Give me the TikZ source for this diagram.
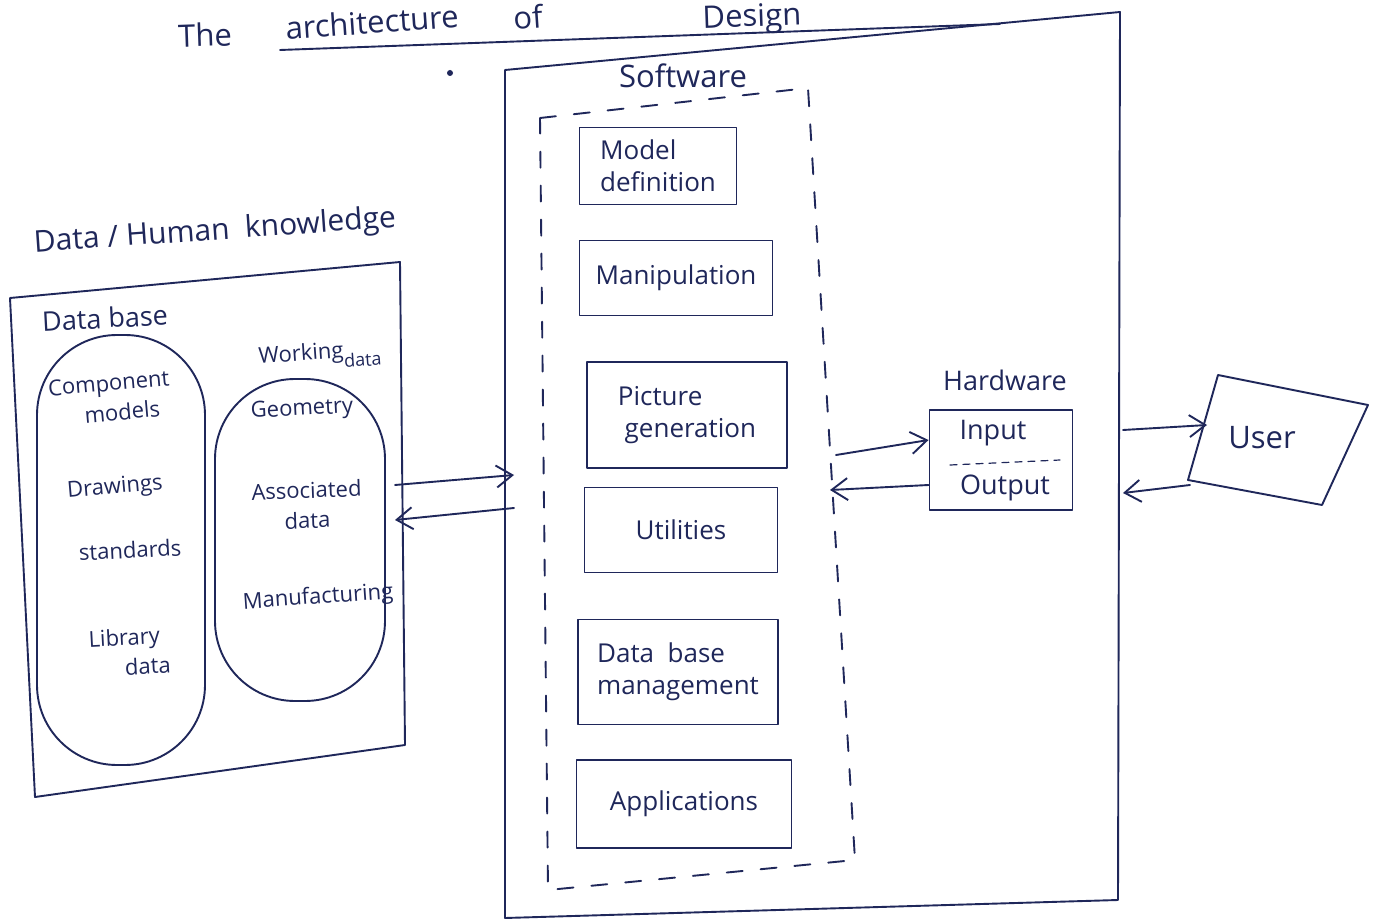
\documentclass[tikz,border=0pt]{standalone}
\usepackage{fontspec}
\setmainfont{Open Sans}
\usetikzlibrary{arrows.meta}
\definecolor{ink}{HTML}{1F275A}
\tikzset{
  pen/.style={draw=ink, line width=1.9pt, line join=round, line cap=round},
  lbl/.style={text=ink, inner sep=0pt, font=\fontsize{27}{30}\selectfont},
  ttl/.style={text=ink, inner sep=0pt, font=\fontsize{31}{34}\selectfont},
  small/.style={text=ink, inner sep=0pt, font=\fontsize{22}{30}\selectfont, align=center},
  swbox/.style={pen, rectangle, text=ink, align=left, font=\fontsize{26}{32}\selectfont},
  capsule/.style={pen, rectangle, rounded corners=80pt},
  arr/.style={pen, -{Straight Barb[length=16pt,width=22pt,line width=1.9pt]}},
  dashline/.style={pen, dash pattern=on 16pt off 18pt}
}
\begin{document}
\begin{tikzpicture}[x=1pt,y=-1pt]
\useasboundingbox[fill=white] (0,0) rectangle (1382,920);

% title
\node[ttl, rotate=2] (t1) at (205,35) {The};
\node[ttl, rotate=4] (t2) at (372,22) {architecture};
\node[ttl, rotate=4] (t3) at (528,17) {of};
\node[ttl, rotate=2] (t4) at (752,19) {Design};
\draw[pen] (280,50) -- (1000,24);
\fill[ink] (450,73) circle (3);

% computer outer box
\coordinate (b1) at (505,70);
\coordinate (b2) at (1120,12);
\coordinate (b3) at (1118,900);
\coordinate (b4) at (505,918);
\draw[pen] (b1) -- (b2) -- (b3) -- (b4) -- cycle;
\node[lbl, font=\fontsize{31}{34}\selectfont] (soft) at (683,76) {Software};

% dashed software box
\coordinate (d1) at (540,118);
\coordinate (d2) at (808,88);
\coordinate (d3) at (855,860);
\coordinate (d4) at (548,890);
\draw[dashline] (d1) -- (d2) -- (d3) -- (d4) -- cycle;

% software modules
\node[swbox, minimum width=157pt, minimum height=77pt] (md) at (658,166) {Model\\definition};
\node[swbox, minimum width=193pt, minimum height=75pt] (man) at (676,278) {Manipulation};
\node[swbox, minimum width=200pt, minimum height=106pt] (pic) at (687,415) {Picture\\\ generation};
\node[swbox, minimum width=193pt, minimum height=85pt] (util) at (681,530) {Utilities};
\node[swbox, minimum width=200pt, minimum height=105pt] (dbm) at (678,672) {Data\ \ base\\management};
\node[swbox, minimum width=215pt, minimum height=88pt] (app) at (684,804) {Applications};

% data / human knowledge
\node[lbl, rotate=4, font=\fontsize{30}{34}\selectfont] (dhk) at (215,232) {Data / Human\ \ knowledge};
\coordinate (l1) at (10,298);
\coordinate (l2) at (400,262);
\coordinate (l3) at (405,745);
\coordinate (l4) at (35,797);
\draw[pen] (l1) -- (l2) -- (l3) -- (l4) -- cycle;
\node[lbl, rotate=3] (db) at (105,318) {Data base};

\node[capsule, minimum width=168pt, minimum height=430pt] (cap1) at (121,550) {};
\node[small, rotate=5] (cm) at (110,398) {Component\\\quad models};
\node[small, rotate=5] (dr) at (115,488) {Drawings};
\node[small, rotate=3] (st) at (130,550) {standards};
\node[small, rotate=3] (lib) at (125,652) {Library\\\qquad data};

\node[capsule, minimum width=170pt, minimum height=322pt] (cap2) at (300,540) {};
\node[small, rotate=4] (wd) at (320,356) {Working\raisebox{-10pt}{\fontsize{18}{20}\selectfont data}};
\node[small, rotate=3] (geo) at (302,410) {Geometry};
\node[small, rotate=2] (asd) at (307,505) {Associated\\data};
\node[small, rotate=4] (mf) at (318,598) {Manufacturing};

% arrows data <-> software
\coordinate (a1s) at (395,485);
\coordinate (a1e) at (514,475);
\coordinate (a2s) at (514,508);
\coordinate (a2e) at (395,520);
\draw[arr] (a1s) -- (a1e);
\draw[arr] (a2s) -- (a2e);

% hardware
\node[lbl] (hwl) at (1005,380) {Hardware};
\node[pen, rectangle, minimum width=143pt, minimum height=100pt] (hw) at (1001,460) {};
\node[lbl] (inp) at (993,433) {Input};
\node[lbl] (outp) at (1005,488) {Output};
\draw[pen, line width=1.2pt, dash pattern=on 7pt off 6pt] (950,465) -- (1060,460);
\coordinate (h1s) at (836,455);
\coordinate (h2e) at (830,490);
\draw[arr] (h1s) -- (hw.west |- 0,440);
\draw[arr] (hw.west |- 0,485) -- (h2e);

% user
\coordinate (u1) at (1218,375);
\coordinate (u2) at (1368,405);
\coordinate (u3) at (1322,505);
\coordinate (u4) at (1188,480);
\draw[pen] (u1) -- (u2) -- (u3) -- (u4) -- cycle;
\node[lbl, font=\fontsize{31}{34}\selectfont] (user) at (1262,438) {User};
\coordinate (r1s) at (1123,430);
\coordinate (r1e) at (1207,425);
\coordinate (r2s) at (1190,485);
\coordinate (r2e) at (1123,493);
\draw[arr] (r1s) -- (r1e);
\draw[arr] (r2s) -- (r2e);
\end{tikzpicture}
\end{document}
